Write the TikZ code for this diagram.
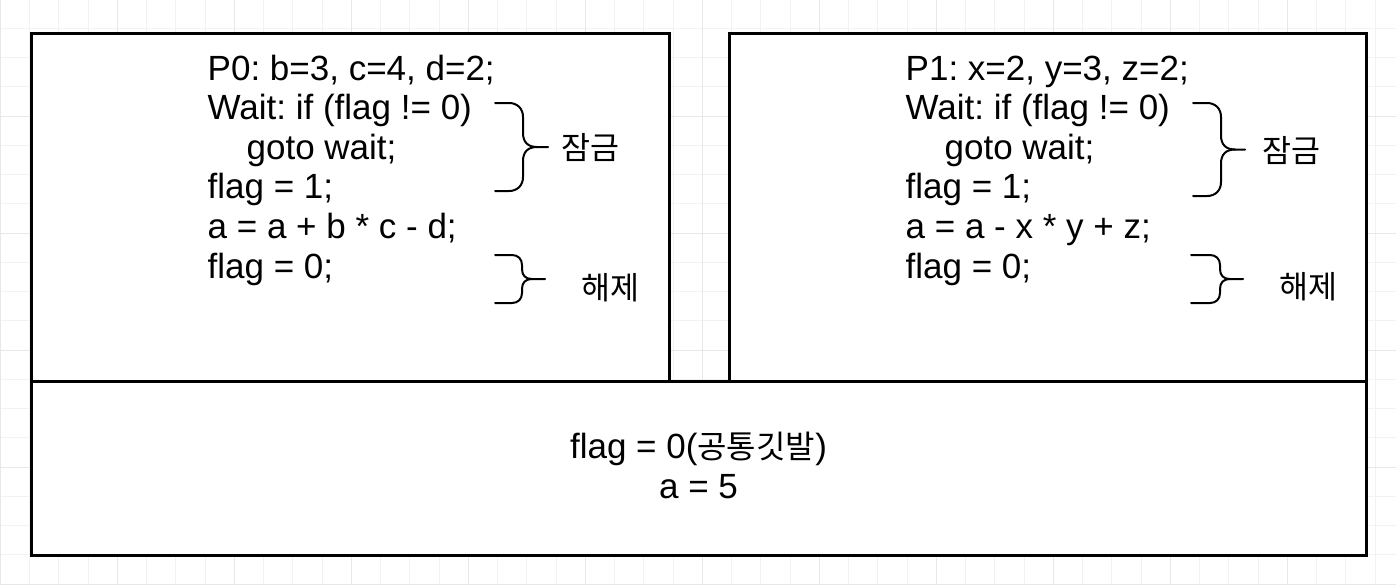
\documentclass[tikz,border=0pt]{standalone}
\usepackage{fontspec}
\setmainfont{Liberation Sans}
\newfontfamily\cjk{Noto Sans CJK KR}
\frenchspacing
\newcommand\drawbrace[6]{% #1 x left, #2 x mid, #3 x tip, #4 y top, #5 y bottom, #6 radius
  \pgfmathsetmacro\ym{(#4+#5)/2}%
  \draw[brace] (#1,#4) -- ({#2-#6},#4) .. controls ({#2-#6*0.4},#4) and (#2,{#4+#6*0.4}) .. (#2,{#4+#6})
     -- (#2,{\ym-#6}) .. controls (#2,{\ym-#6*0.35}) and ({#2+#6*0.35},\ym) .. ({#2+#6},\ym) -- (#3,\ym);
  \draw[brace] ({#2+#6},\ym) .. controls ({#2+#6*0.35},\ym) and (#2,{\ym+#6*0.35}) .. (#2,{\ym+#6})
     -- (#2,{#5-#6}) .. controls (#2,{#5-#6*0.4}) and ({#2-#6*0.4},#5) .. ({#2-#6},#5) -- (#1,#5);}
\begin{document}
\begin{tikzpicture}[x=1pt,y=-1pt,
  minorgrid/.style={draw=black!5, line width=1pt},
  majorgrid/.style={draw=black!9, line width=1pt},
  box/.style={draw=black, line width=3pt, fill=white, inner sep=0pt},
  code/.style={anchor=base west, inner sep=0pt, font=\fontsize{35}{39.6}\selectfont},
  mid/.style={anchor=base, inner sep=0pt, font=\fontsize{35}{39.6}\selectfont},
  kor/.style={inner sep=0pt, font=\cjk\fontsize{31.5}{36}\selectfont},
  brace/.style={line width=2pt, line cap=round, line join=round}]
\useasboundingbox (0,0) rectangle (1396,584);
\fill[white] (0,0) rectangle (1396,584);
% background grid
\foreach \i in {0,...,47} {\draw[minorgrid] ({0.25+29.25*\i},0) -- ++(0,584);}
\foreach \j in {0,...,20} {\draw[minorgrid] (0,{-1+29.25*\j}) -- ++(1396,0);}
\foreach \i in {0,...,12} {\draw[majorgrid] ({0.25+117*\i},0) -- ++(0,584);}
\foreach \j in {0,...,5} {\draw[majorgrid] (0,{-1+117*\j}) -- ++(1396,0);}
% boxes
\node[box, minimum width=638pt, minimum height=348pt] (p0box) at (350,207) {};
\node[box, minimum width=637pt, minimum height=348pt] (p1box) at (1047.5,207) {};
\node[box, minimum width=1335pt, minimum height=174pt] (shared) at (698.5,468) {};
% P0 code
\node[code] (p0l1) at (207.5,80) {P0: b=3, c=4, d=2;};
\node[code] (p0l2) at (207.5,119.6) {Wait: if (flag != 0)};
\node[code] (p0l3) at (207.5,159.2) {\ \ \ \ goto wait;};
\node[code] (p0l4) at (207.5,198.8) {flag = 1;};
\node[code] (p0l5) at (207.5,238.4) {a = a + b * c - d;};
\node[code] (p0l6) at (207.5,278) {flag = 0;};
% P1 code
\node[code] (p1l1) at (905.5,80) {P1: x=2, y=3, z=2;};
\node[code] (p1l2) at (905.5,119.6) {Wait: if (flag != 0)};
\node[code] (p1l3) at (905.5,159.2) {\ \ \ \ goto wait;};
\node[code] (p1l4) at (905.5,198.8) {flag = 1;};
\node[code] (p1l5) at (905.5,238.4) {a = a - x * y + z;};
\node[code] (p1l6) at (905.5,278) {flag = 0;};
% braces
\drawbrace{495}{523}{548}{103}{191}{14}
\drawbrace{495}{522}{545}{255}{303}{10}
\drawbrace{1193}{1221}{1245}{103}{196}{14}
\drawbrace{1191}{1220}{1243}{255}{303}{10}
% labels
\node[kor] (lock0) at (590,148) {잠금};
\node[kor] (unlock0) at (610,288) {해제};
\node[kor] (lock1) at (1291,151) {잠금};
\node[kor] (unlock1) at (1308,287) {해제};
% shared memory
\node[mid] (flag) at (698.5,458) {flag = 0({\cjk\fontsize{32}{36}\selectfont 공통깃발})};
\node[mid] (aval) at (698.5,498) {a = 5};
\end{tikzpicture}
\end{document}
